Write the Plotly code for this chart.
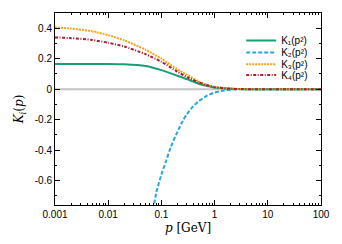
import plotly.graph_objects as go

# Data
p_vals = [0.001, 0.002, 0.005, 0.01, 0.02, 0.05, 0.1, 0.2, 0.3, 0.5, 0.7, 1, 2, 3, 5, 10, 30, 100]
K1 = [0.165, 0.165, 0.165, 0.165, 0.163, 0.152, 0.125, 0.088, 0.066, 0.036, 0.022, 0.011, 0.003, 0.001, 0.0, 0.0, 0.0, 0.0]
K3 = [0.405, 0.398, 0.38, 0.355, 0.32, 0.26, 0.2, 0.13, 0.095, 0.05, 0.03, 0.015, 0.004, 0.001, 0.0, 0.0, 0.0, 0.0]
K4 = [0.34, 0.335, 0.323, 0.305, 0.28, 0.23, 0.18, 0.115, 0.08, 0.045, 0.027, 0.013, 0.003, 0.001, 0.0, 0.0, 0.0, 0.0]

p2_vals = [0.07, 0.08, 0.1, 0.12, 0.15, 0.2, 0.25, 0.3, 0.4, 0.5, 0.7, 1, 1.5, 2, 3, 5, 10, 100]
K2 = [-0.79, -0.68, -0.56, -0.48, -0.38, -0.28, -0.21, -0.165, -0.11, -0.08, -0.045, -0.022, -0.008, -0.003, -0.0005, 0.0, 0.0, 0.0]

names = ["K\u2081(p\u00b2)", "K\u2082(p\u00b2)", "K\u2083(p\u00b2)", "K\u2084(p\u00b2)"]

x_ticks = [0.001, 0.01, 0.1, 1, 10, 100]
x_ticktext = ["0.001", "0.01", "0.1", "1", "10", "100"]
y_ticks = [-0.6, -0.4, -0.2, 0, 0.2, 0.4]
y_ticktext = ["-0.6", "-0.4", "-0.2", "0", "0.2", "0.4"]

x_minor = [m * 10 ** e for e in range(-3, 2) for m in range(2, 10)]
y_minor = [-0.7, -0.5, -0.3, -0.1, 0.1, 0.3, 0.5]

fig = go.Figure()

# zero reference line
fig.add_trace(go.Scatter(x=[0.001, 100], y=[0, 0], mode="lines",
                         line=dict(color="#c4c4c4", width=2), showlegend=False,
                         hoverinfo="skip"))

fig.add_trace(go.Scatter(x=p_vals, y=K1, name=names[0], mode="lines", legend="legend",
                         line=dict(color="#1a9e76", width=2, shape="spline", smoothing=0.6)))
fig.add_trace(go.Scatter(x=p2_vals, y=K2, name=names[1], mode="lines", legend="legend2",
                         line=dict(color="#2aa6dc", width=2, dash="4px,2px", shape="spline", smoothing=0.6)))
fig.add_trace(go.Scatter(x=p_vals, y=K3, name=names[2], mode="lines", legend="legend3",
                         line=dict(color="#f5a21e", width=2, dash="2px,1px", shape="spline", smoothing=0.6)))
fig.add_trace(go.Scatter(x=p_vals, y=K4, name=names[3], mode="lines", legend="legend4",
                         line=dict(color="#a5202e", width=2, dash="3px,1.5px,1px,1.5px", shape="spline", smoothing=0.6)))

axis_common = dict(showline=True, linecolor="black", linewidth=1, mirror="ticks",
                   ticks="inside", ticklen=5, tickcolor="black", showgrid=False,
                   zeroline=False, tickfont=dict(family="Liberation Sans, Arial", size=10, color="black"))

fig.update_xaxes(type="log", range=[-3, 2], tickmode="array", tickvals=x_ticks,
                 ticktext=x_ticktext,
                 minor=dict(tickmode="array", tickvals=x_minor, ticks="inside", ticklen=2,
                            tickcolor="black", showgrid=False),
                 title=dict(text="<i>p</i> [GeV]", font=dict(family="DejaVu Serif, serif", size=12, color="black"),
                            standoff=4),
                 **axis_common)
fig.update_yaxes(range=[-0.76, 0.5], tickmode="array", tickvals=y_ticks, ticktext=y_ticktext,
                 minor=dict(tickmode="array", tickvals=y_minor, ticks="inside", ticklen=2,
                            tickcolor="black", showgrid=False),
                 title=dict(text="<i>K<sub>i</sub></i>(<i>p</i>)", font=dict(family="DejaVu Serif, serif", size=12, color="black"),
                            standoff=8),
                 **axis_common)

legend_font = dict(family="Liberation Sans, DejaVu Sans, Arial", size=10, color="black")
legend_y = [0.857, 0.794, 0.733, 0.677]
legend_common = dict(x=0.70, xanchor="left", yanchor="middle", bgcolor="rgba(0,0,0,0)",
                     font=legend_font, itemwidth=30)

fig.update_layout(
    width=342, height=244,
    margin=dict(l=55, r=19, t=12, b=36),
    paper_bgcolor="white", plot_bgcolor="white",
    legend=dict(y=legend_y[0], **legend_common),
    legend2=dict(y=legend_y[1], **legend_common),
    legend3=dict(y=legend_y[2], **legend_common),
    legend4=dict(y=legend_y[3], **legend_common),
)

fig.write_html("out.html", config={"displayModeBar": False},
               post_script="document.body.style.margin='0';")
